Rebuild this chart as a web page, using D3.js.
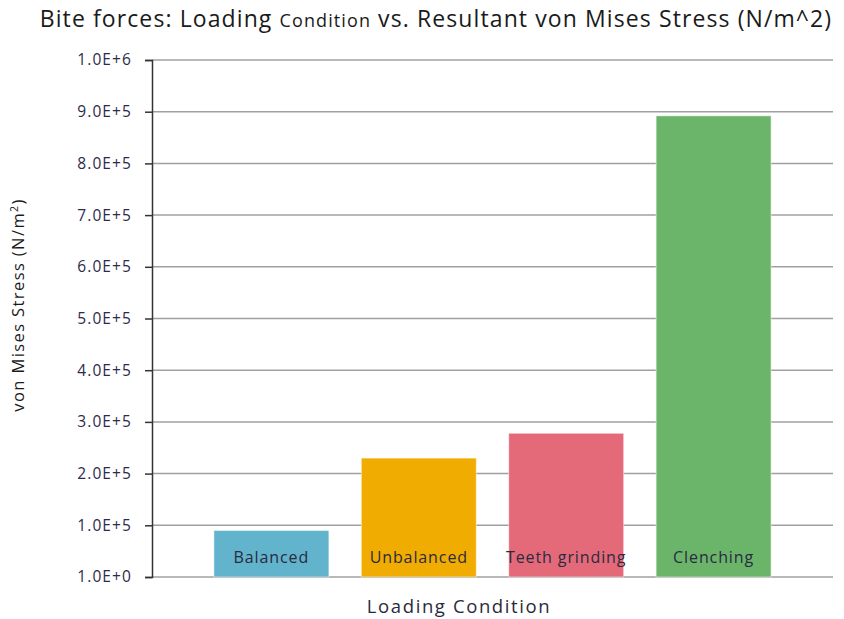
<!DOCTYPE html>
<html>
<head>
<meta charset="utf-8">
<script src="https://cdn.jsdelivr.net/npm/d3@7/dist/d3.min.js"></script>
<style>
  body { margin: 0; background: #fff; }
  text { font-family: "Open Sans", Lato, sans-serif; }
</style>
</head>
<body>
<div id="chart"></div>
<script>
// bite force data
var conditions = ['Balanced', 'Unbalanced', 'Teeth grinding', 'Clenching'];
var stress_values = [90000, 230000, 278000, 892000];
var bar_colors = ['#62b3cc', '#f0ac00', '#e46a7a', '#6bb56b'];
var tick_values = [0, 100000, 200000, 300000, 400000, 500000, 600000, 700000, 800000, 900000, 1000000];
var tick_labels = ['1.0E+0', '1.0E+5', '2.0E+5', '3.0E+5', '4.0E+5', '5.0E+5', '6.0E+5', '7.0E+5', '8.0E+5', '9.0E+5', '1.0E+6'];

var width = 844, height = 619;
var plot_left = 152, plot_right = 833, plot_top = 60, plot_bottom = 577;

var svg = d3.select('#chart')
  .append('svg')
  .attr('width', width)
  .attr('height', height);

var x = d3.scaleBand()
  .domain(conditions)
  .range([plot_left, plot_right])
  .paddingInner(0.22)
  .paddingOuter(0.42);

var y = d3.scaleLinear()
  .domain([0, 1000000])
  .range([plot_bottom, plot_top]);

// gridlines
svg.append('g')
  .attr('class', 'grid')
  .selectAll('line')
  .data(tick_values)
  .enter()
  .append('line')
  .attr('x1', plot_left)
  .attr('x2', plot_right)
  .attr('y1', d => y(d))
  .attr('y2', d => y(d))
  .attr('stroke', '#a0a0a0')
  .attr('stroke-width', 1.5);

// bars
svg.append('g')
  .selectAll('rect')
  .data(conditions)
  .enter()
  .append('rect')
  .attr('x', d => x(d))
  .attr('y', (d, i) => y(stress_values[i]))
  .attr('width', x.bandwidth())
  .attr('height', (d, i) => y(0) - y(stress_values[i]))
  .attr('fill', (d, i) => bar_colors[i])
  .attr('stroke', 'rgba(255,255,255,0.5)')
  .attr('stroke-width', 1);

// labels inside bars
svg.append('g')
  .selectAll('text')
  .data(conditions)
  .enter()
  .append('text')
  .attr('x', d => x(d) + x.bandwidth() / 2)
  .attr('y', 563)
  .attr('text-anchor', 'middle')
  .attr('font-size', '16px')
  .attr('letter-spacing', '0.9px')
  .attr('fill', '#2a2a40')
  .text(d => d);

// y axis
var y_axis = d3.axisLeft(y)
  .tickValues(tick_values)
  .tickFormat((d, i) => tick_labels[i])
  .tickSize(7)
  .tickPadding(13);

svg.append('g')
  .attr('class', 'y-axis')
  .attr('transform', 'translate(' + plot_left + ',0)')
  .call(y_axis)
  .call(g => g.select('.domain').attr('stroke', '#333').attr('stroke-width', 1.5))
  .call(g => g.selectAll('.tick line').attr('stroke', '#333').attr('stroke-width', 1.5))
  .call(g => g.selectAll('.tick text')
    .attr('font-family', '"Open Sans", Lato, sans-serif')
    .attr('font-size', '15.5px')
    .attr('letter-spacing', '1.1px')
    .attr('fill', '#2e2a4a'));

// title
var title = svg.append('text')
  .attr('x', 436)
  .attr('y', 27)
  .attr('text-anchor', 'middle')
  .attr('font-size', '23px')
  .attr('letter-spacing', '1.1px')
  .attr('fill', '#1a1a1a');
title.append('tspan').text('Bite forces: Loading ');
title.append('tspan').attr('font-size', '18px').text('Condition');
title.append('tspan').text(' vs. Resultant von Mises Stress (N/m^2)');

// x axis title
svg.append('text')
  .attr('x', 459)
  .attr('y', 613)
  .attr('text-anchor', 'middle')
  .attr('font-size', '18.5px')
  .attr('letter-spacing', '1.6px')
  .attr('fill', '#2a2a3a')
  .text('Loading Condition');

// y axis title
var ytitle = svg.append('text')
  .attr('transform', 'translate(24,305) rotate(-90)')
  .attr('text-anchor', 'middle')
  .attr('font-size', '16.5px')
  .attr('letter-spacing', '1.4px')
  .attr('fill', '#1a1a1a');
ytitle.append('tspan').text('von Mises Stress (N/m');
ytitle.append('tspan').attr('font-size', '10.5px').attr('dy', '-6').text('2');
ytitle.append('tspan').attr('dy', '6').text(')');
</script>
</body>
</html>
